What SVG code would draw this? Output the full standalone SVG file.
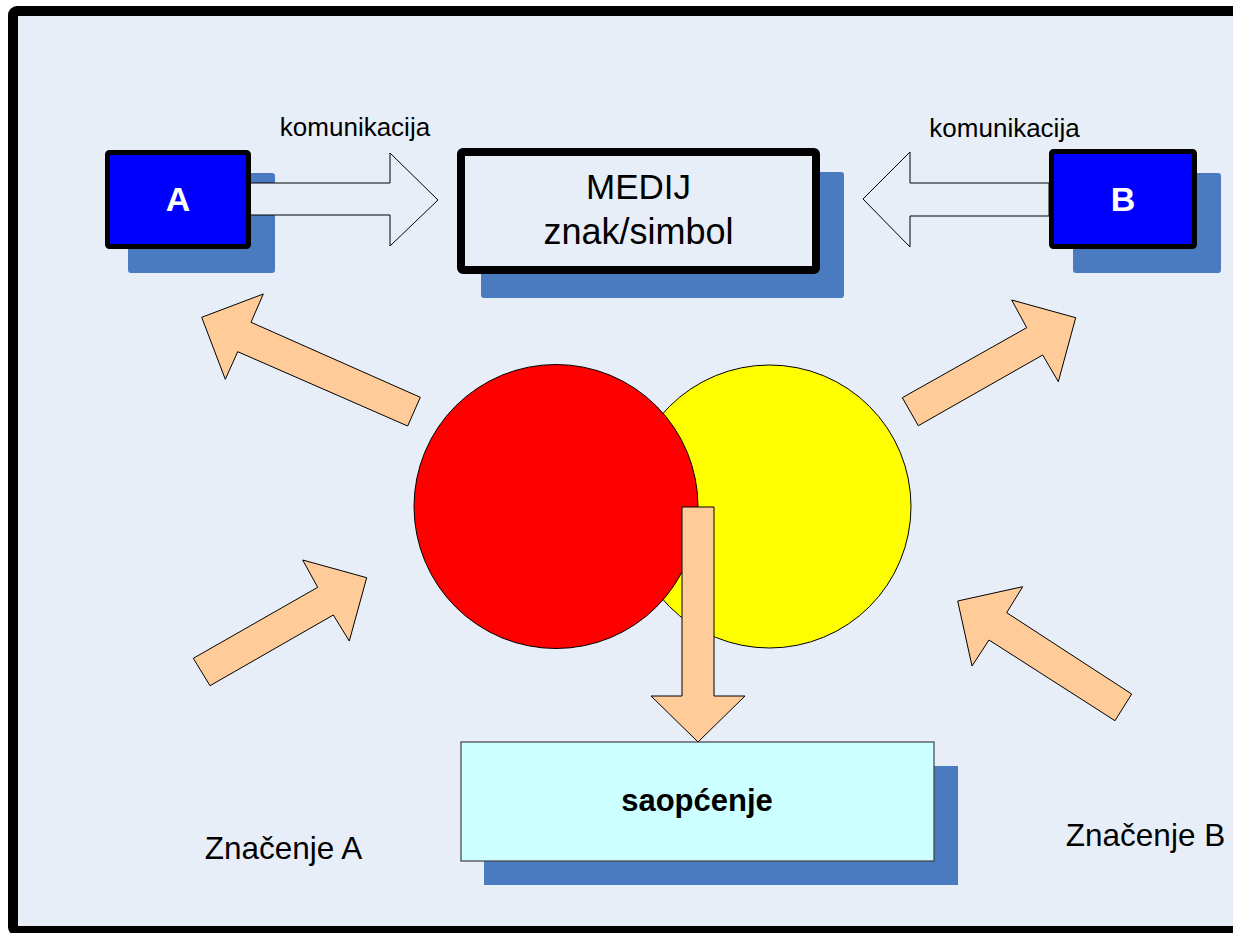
<svg xmlns="http://www.w3.org/2000/svg" width="1233" height="933" viewBox="0 0 1233 933">
<style>
.shadow{fill:#4A7BC0}
.boxab{fill:#0000FF;stroke:#000;stroke-width:5}
.hollow{fill:#E8EEF8;stroke:#000;stroke-width:1}
.orange{fill:#FFCC99;stroke:#000;stroke-width:1;stroke-linejoin:miter}
.t{font-family:"Liberation Sans",Arial,sans-serif;fill:#000}
.bw{font-family:"Liberation Sans",Arial,sans-serif;font-weight:bold;fill:#fff;font-size:34px;text-anchor:middle}
</style>
<rect id="frame" x="13" y="11" width="1240" height="920" rx="4" fill="#E7EEF8" stroke="#000" stroke-width="10"/>
<g id="nodeA">
<rect class="shadow" x="128" y="173" width="147" height="100" rx="3"/>
<rect class="boxab" x="107.5" y="152.5" width="141" height="94" rx="2"/>
<text class="bw" x="178" y="211">A</text>
</g>
<g id="nodeB">
<rect class="shadow" x="1073" y="173" width="148" height="100" rx="3"/>
<rect class="boxab" x="1051.5" y="151.5" width="143" height="95" rx="2"/>
<text class="bw" x="1123" y="211">B</text>
</g>
<g id="medij">
<rect class="shadow" x="481" y="172" width="363" height="126" rx="3"/>
<rect x="461" y="152" width="355" height="118" rx="2" fill="#E7EEF8" stroke="#000" stroke-width="8"/>
<text class="t" x="638.5" y="199" font-size="35" text-anchor="middle">MEDIJ</text>
<text class="t" x="638.5" y="244" font-size="36" text-anchor="middle">znak/simbol</text>
</g>
<g id="circles">
<circle cx="769.5" cy="506.5" r="141.5" fill="#FFFF00" stroke="#000" stroke-width="1"/>
<circle cx="556" cy="506.5" r="142" fill="#FF0000" stroke="#000" stroke-width="1"/>
</g>
<g id="connectors">
<polygon class="hollow" points="250,183 390,183 390,153 438,200 390,246 390,215 250,215"/>
<polygon class="hollow" points="1049,183 910,183 910,152 863,199 910,247 910,216 1049,216"/>
<polygon class="orange" points="201.7,317.3 263.3,294 251,322.3 420.3,397.3 407.7,426 237.7,351.7 225.3,379.3"/>
<polygon class="orange" points="193.3,658.3 317.7,587.3 302.7,560 366.7,577.7 349.3,641 333.3,615 210,685.7"/>
<polygon class="orange" points="902.3,397.7 1026.7,327.7 1011.7,300 1075.7,317.7 1058.3,381.7 1042.7,355 918.3,425.7"/>
<polygon class="orange" points="957.7,601 1022.7,586.7 1006.7,612.7 1131.7,694 1115,720.7 989,640 972,666"/>
<polygon class="orange" points="682,507 714,507 714,696 745,696 698,742 651,696 682,696"/>
</g>
<g id="borders-over">
<line x1="248.5" y1="180" x2="248.5" y2="218" stroke="#000" stroke-width="5"/>
<line x1="1051.5" y1="180" x2="1051.5" y2="219" stroke="#000" stroke-width="5"/>
</g>
<g id="labels-komunikacija">
<text class="t" x="355" y="136" font-size="26" text-anchor="middle">komunikacija</text>
<text class="t" x="1004.5" y="137" font-size="26" text-anchor="middle">komunikacija</text>
</g>
<g id="saopcenje">
<rect class="shadow" x="484" y="766" width="474" height="119"/>
<rect x="461" y="742" width="473" height="119" fill="#CCFFFF" stroke="#404040" stroke-width="1.2"/>
<text class="t" x="697" y="811" font-size="31" font-weight="bold" text-anchor="middle">saopćenje</text>
</g>
<g id="znacenje">
<text class="t" x="283.5" y="859" font-size="31.5" text-anchor="middle">Značenje A</text>
<text class="t" x="1145.5" y="846" font-size="31.5" text-anchor="middle">Značenje B</text>
</g>
</svg>
